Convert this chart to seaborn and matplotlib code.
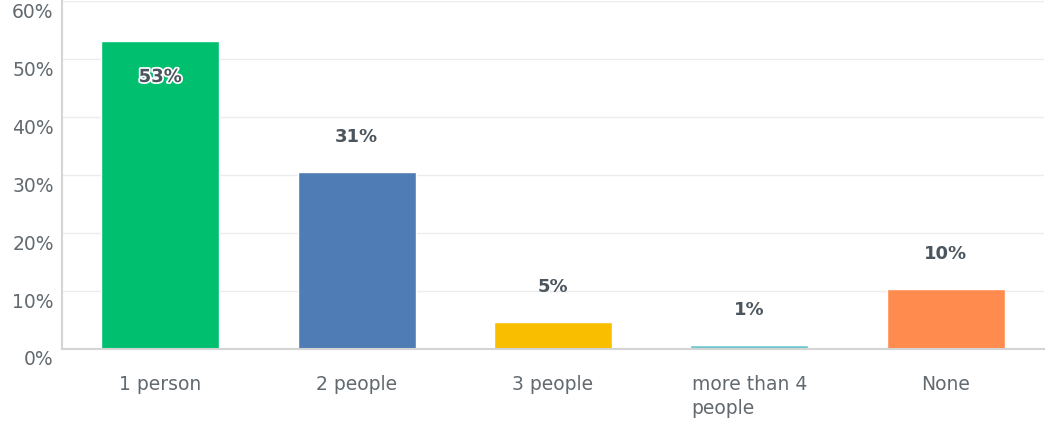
import matplotlib
matplotlib.use("Agg")
import matplotlib.pyplot as plt
import matplotlib.patheffects as pe
import matplotlib.transforms as mtransforms
import seaborn as sns
import pandas as pd

# Answer choices and share of respondents (%)
categories = ["1 person", "2 people", "3 people", "more than 4\npeople", "None"]
shares = [53.1, 30.6, 4.6, 0.7, 10.3]
bar_colors = ["#00BF6F", "#507CB6", "#F9BE00", "#6BC8CD", "#FF8B4F"]
y_ticks = [0, 10, 20, 30, 40, 50, 60]

df = pd.DataFrame({"answer": categories, "share": shares})

sns.set_theme(style="white")
plt.rcParams["font.family"] = ["DejaVu Sans"]

fig = plt.figure(figsize=(10.46, 4.27), dpi=100)
ax = fig.add_axes([62 / 1046, 1 - 350 / 427, (1044 - 62) / 1046, 348 / 427])

sns.barplot(data=df, x="answer", y="share", hue="answer", palette=bar_colors,
            width=0.6, legend=False, ax=ax, saturation=1)

ax.set_xlim(-0.5, 4.5)
ax.set_ylim(0, 60)
ax.set_yticks(y_ticks)
ax.set_yticklabels([f"{t}%" for t in y_ticks])
ax.set_xlabel("")
ax.set_ylabel("")

ax.grid(axis="y", color="#ececec", linewidth=1)
ax.set_axisbelow(True)
for side in ("top", "right"):
    ax.spines[side].set_visible(False)
ax.spines["left"].set_color("#d4d4d4")
ax.spines["bottom"].set_color("#d4d4d4")
ax.spines["left"].set_linewidth(1.5)
ax.spines["bottom"].set_linewidth(1.5)

ax.tick_params(axis="both", length=0, labelsize=13.5, labelcolor="#62696f")
ax.tick_params(axis="y", pad=6)
ax.tick_params(axis="x", pad=18)

# shift y tick labels a little below their gridlines
offset = mtransforms.ScaledTranslation(0, -8 / 100, fig.dpi_scale_trans)
for lbl in ax.get_yticklabels():
    lbl.set_transform(lbl.get_transform() + offset)
for lbl in ax.get_xticklabels():
    lbl.set_multialignment("left")
    lbl.set_linespacing(1.35)

# value labels
px = 60 / 348  # data units per pixel
for i, v in enumerate(shares):
    text = f"{v:.0f}%"
    if v > 45:
        ax.text(i, v - 36 * px, text, ha="center", va="center", fontsize=13,
                fontweight="bold", color="#4b555e",
                path_effects=[pe.withStroke(linewidth=2.5, foreground="white")])
    else:
        ax.text(i, v + 36 * px, text, ha="center", va="center", fontsize=13,
                fontweight="bold", color="#4b555e")

fig.savefig("out.png", dpi=100)
